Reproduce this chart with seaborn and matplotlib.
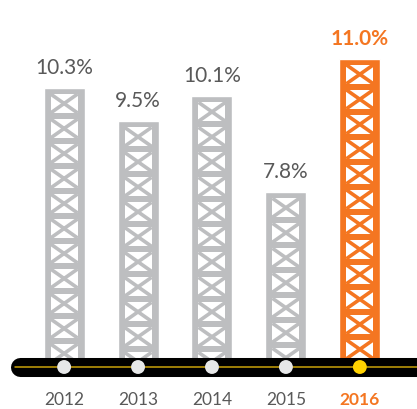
import matplotlib
matplotlib.use("Agg")
import matplotlib.pyplot as plt
import matplotlib.transforms as mtransforms
from matplotlib.patches import Rectangle
import seaborn as sns

years = ['2012', '2013', '2014', '2015', '2016']
growth = [10.3, 9.5, 10.1, 7.8, 11.0]
bar_colors = ['#bdbec0', '#bdbec0', '#bdbec0', '#bdbec0', '#f47621']
dot_colors = ['#e6e7e8', '#e6e7e8', '#e6e7e8', '#e6e7e8', '#ffd200']

sns.set_style("white")
plt.rcParams['font.family'] = ['Lato', 'DejaVu Sans']

fig = plt.figure(figsize=(4.17, 4.09), dpi=100)
ax = fig.add_axes([0, 42 / 409, 1, 367 / 409])

sns.barplot(x=years, y=growth, hue=years, palette=bar_colors, legend=False,
            width=0.555, saturation=1, ax=ax, zorder=2)
bars = sorted(ax.patches, key=lambda p: p.get_x())

ax.set_xlim(-0.867, 4.773)
ax.set_ylim(3.61, 12.41)
sns.despine(left=True, bottom=True)
ax.set_yticks([])
ax.set_xlabel('')
ax.tick_params(axis='x', length=0, pad=18, labelsize=12.5, labelcolor='#595959')
last = ax.get_xticklabels()[-1]
last.set_color('#f47621')
last.set_fontweight('bold')

# px per data unit, used to build the lattice inside each bar
p0 = ax.transData.transform((0, 0))
p1 = ax.transData.transform((1, 1))
sx, sy = p1[0] - p0[0], p1[1] - p0[1]
post = 7 / sx
rung = 6 / sy
cell = 19 / sy
pitch = rung + cell

for bar, col in zip(bars, bar_colors):
    x0 = bar.get_x()
    w = bar.get_width()
    top = bar.get_height()
    xl, xr = x0 + post, x0 + w - post
    yt = top - rung
    while yt > 3.0:
        yb = yt - cell
        ax.add_patch(Rectangle((xl, yb), xr - xl, cell, facecolor='white',
                               edgecolor='none', zorder=3))
        ax.plot([xl, xr], [yb, yt], color=col, lw=2.6, solid_capstyle='butt', zorder=4)
        ax.plot([xl, xr], [yt, yb], color=col, lw=2.6, solid_capstyle='butt', zorder=4)
        yt = yb - rung

for bar, v, col in zip(bars, growth, bar_colors):
    bold = col == '#f47621'
    ax.annotate(f"{v:.1f}%", (bar.get_x() + bar.get_width() / 2, bar.get_height()),
                xytext=(0, 10), textcoords='offset points', ha='center', va='baseline',
                fontsize=15, color='#f47621' if bold else '#595959',
                fontweight='bold' if bold else 'normal')

# timeline at the base
blend = mtransforms.blended_transform_factory(ax.transData, ax.transAxes)
ax.plot([-0.603, 5.5], [0, 0], transform=blend, color='black', lw=13.7,
        solid_capstyle='round', clip_on=False, zorder=5)
ax.plot([-0.66, 5.5], [0, 0], transform=blend, color='#c9a30a', lw=1.1,
        clip_on=False, zorder=6)
ax.scatter(range(len(years)), [0] * len(years), transform=blend, s=100,
           c=dot_colors, linewidths=0, clip_on=False, zorder=7)

fig.savefig('out.png', dpi=100)
